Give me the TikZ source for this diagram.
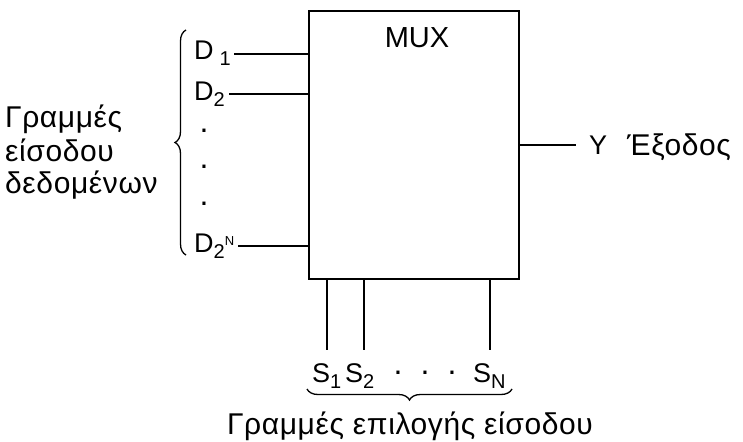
\documentclass[tikz,border=0pt]{standalone}
\usepackage{fontspec}
\setmainfont{Liberation Sans}
\usetikzlibrary{decorations.pathreplacing}
\newcommand{\lowsub}[1]{\raisebox{-6pt}{\fontsize{20}{20}\selectfont #1}}
\newcommand{\upsup}[1]{\raisebox{7pt}{\fontsize{13}{13}\selectfont #1}}
\begin{document}
\begin{tikzpicture}[x=1pt,y=-1pt,
  wire/.style={line width=1.8pt},
  lbl/.style={inner sep=0pt,font=\fontsize{27}{30}\selectfont},
  grk/.style={inner sep=0pt,font=\fontsize{30}{33}\selectfont\addfontfeature{LetterSpace=2}},
  dot/.style={inner sep=0pt,font=\fontsize{32}{32}\selectfont},
  brc/.style={line width=1.3pt,decorate,decoration={brace,amplitude=11pt}}]
\useasboundingbox (0,0) rectangle (743,441);
\node[draw,line width=1.8pt,minimum width=210pt,minimum height=268pt,inner sep=0pt,anchor=north west] (mux) at (308,10) {};
\node[lbl,font=\fontsize{29}{30}\selectfont] (title) at (417,38) {MUX};
% inputs
\node[lbl,anchor=base west] (d1) at (194,60) {D\hspace{6pt}\lowsub{1}};
\node[lbl,anchor=base west] (d2) at (194,100) {D\lowsub{2}};
\node[lbl,anchor=base west] (dn) at (194,252) {D\lowsub{2}\upsup{N}};
\node[dot] (v1) at (204,131) {.};
\node[dot] (v2) at (204,167) {.};
\node[dot] (v3) at (204,204) {.};
\draw[wire] ([xshift=3pt]d1.east) -- (d1.east -| mux.west);
\draw[wire] ([xshift=4pt]d2.east) -- (d2.east -| mux.west);
\draw[wire] ([xshift=4pt]dn.east) -- (dn.east -| mux.west);
% left brace and label
\coordinate (lb1) at (186,255);
\coordinate (lb2) at (186,30);
\draw[brc] (lb1) -- (lb2);
\node[grk,anchor=base west] (din1) at (5,128) {Γραμμές};
\node[grk,anchor=base west] (din2) at (5,161) {είσοδου};
\node[grk,anchor=base west] (din3) at (5,193) {δεδομένων};
% output
\coordinate (yend) at (576,145);
\draw[wire] (mux.east |- yend) -- (yend);
\node[lbl,anchor=west] (y) at (589,145) {Y};
\node[grk,anchor=base west] (out) at (627,155) {Έξοδος};
% select lines
\node[lbl,anchor=base west] (s1) at (312,382) {S\lowsub{1}};
\node[lbl,anchor=base west] (s2) at (345,382) {S\lowsub{2}};
\node[lbl,anchor=base west] (sn) at (473,382) {S\lowsub{N}};
\node[dot] (h1) at (398,373) {.};
\node[dot] (h2) at (425,373) {.};
\node[dot] (h3) at (452,373) {.};
\coordinate (c1) at (327,350);
\coordinate (c2) at (364,350);
\coordinate (cn) at (490,350);
\draw[wire] (c1 |- mux.south) -- (c1);
\draw[wire] (c2 |- mux.south) -- (c2);
\draw[wire] (cn |- mux.south) -- (cn);
\coordinate (bb1) at (512,389);
\coordinate (bb2) at (307,389);
\draw[brc] (bb1) -- (bb2);
\node[grk,anchor=base] (sel) at (410,434) {Γραμμές επιλογής είσοδου};
\end{tikzpicture}
\end{document}
